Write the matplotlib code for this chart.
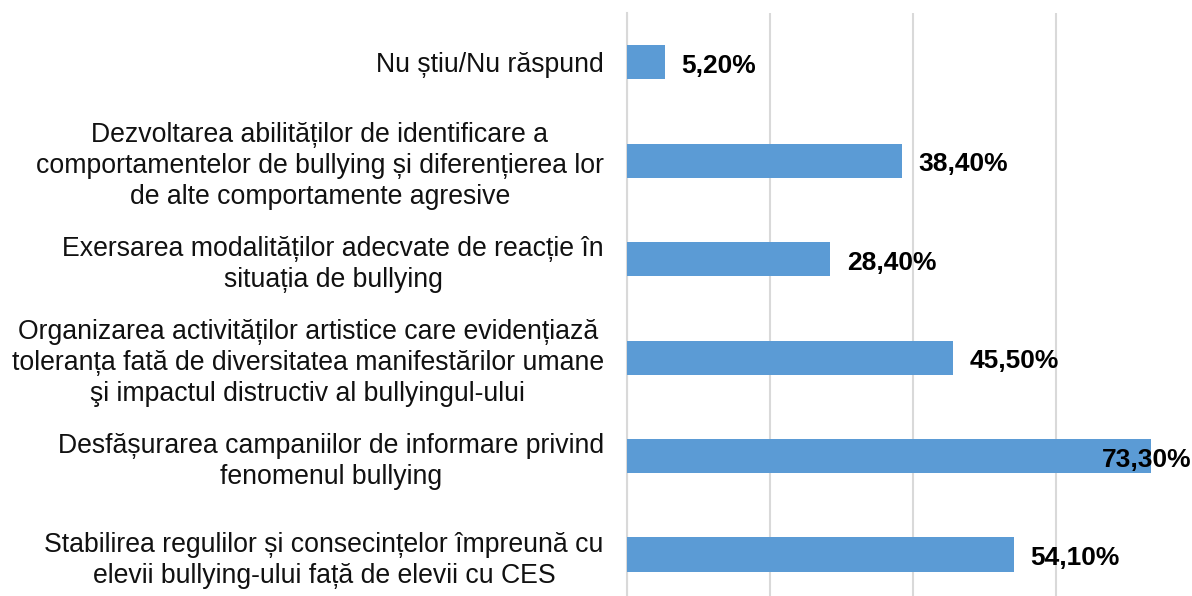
import matplotlib.pyplot as plt
import numpy as np

plt.rcParams['font.family'] = ['Liberation Sans', 'DejaVu Sans']

categories = [
    'Nu știu/Nu răspund',
    'Dezvoltarea abilităților de identificare a\ncomportamentelor de bullying și diferențierea lor\nde alte comportamente agresive',
    'Exersarea modalităților adecvate de reacție în\nsituația de bullying',
    'Organizarea activităților artistice care evidențiază\ntoleranța fată de diversitatea manifestărilor umane\nşi impactul distructiv al bullyingul-ului',
    'Desfășurarea campaniilor de informare privind\nfenomenul bullying',
    'Stabilirea regulilor și consecințelor împreună cu\nelevii bullying-ului față de elevii cu CES',
]
values = [5.2, 38.4, 28.4, 45.5, 73.3, 54.1]
value_labels = ['5,20%', '38,40%', '28,40%', '45,50%', '73,30%', '54,10%']

fig = plt.figure(figsize=(11.92, 5.96), dpi=100)
ax = fig.add_axes([0.5264, -0.0134, 0.4795, 0.9916])

y = np.arange(len(categories))
ax.barh(y, values, height=0.35, color='#5B9BD5', zorder=3)
ax.set_ylim(len(categories) - 0.5, -0.5)
ax.set_xlim(0, 80)

ax.set_xticks([0, 20, 40, 60, 80])
ax.xaxis.grid(True, color='#D9D9D9', linewidth=1.5, zorder=0)
ax.tick_params(axis='x', length=0, labelbottom=False)
ax.tick_params(axis='y', length=0, pad=17)
ax.set_yticks(y)
ax.set_yticklabels(categories, fontsize=19.2, multialignment='center', color='#111111',
                   linespacing=1.25)
for s in ax.spines.values():
    s.set_visible(False)
ax.spines['left'].set_visible(True)
ax.spines['left'].set_color('#D9D9D9')
ax.spines['left'].set_linewidth(1.5)

# value labels, the widest one is pulled back inside the plot like in Excel
for yi, v, lab in zip(y, values, value_labels):
    if v > 70:
        ax.annotate(lab, (v, yi), xytext=(29, -2.5), textcoords='offset points',
                    ha='right', va='center', fontsize=19, fontweight='bold', zorder=4)
    else:
        ax.annotate(lab, (v, yi), xytext=(12, -2.5), textcoords='offset points',
                    ha='left', va='center', fontsize=19, fontweight='bold', zorder=4)

fig.savefig('out.png', dpi=100)
